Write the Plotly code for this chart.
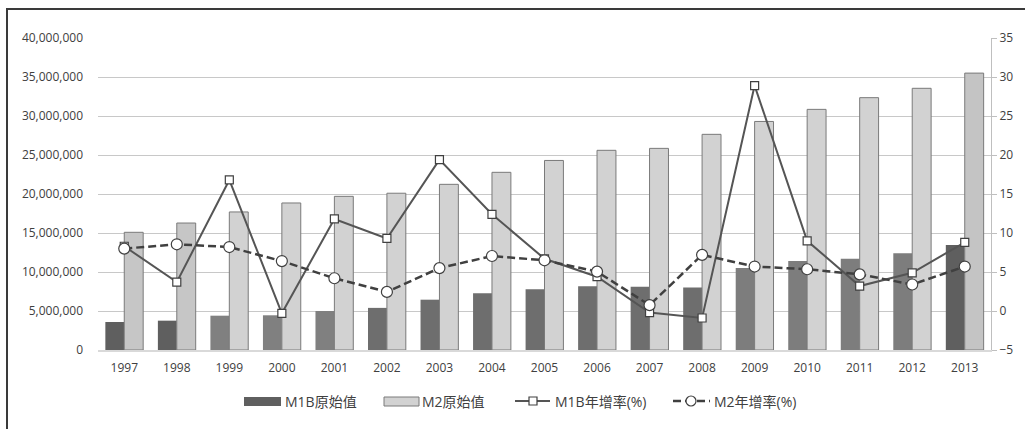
import plotly.graph_objects as go

years = [str(y) for y in range(1997, 2014)]
m1b = [3.59e6, 3.76e6, 4.4e6, 4.45e6, 5.0e6, 5.4e6, 6.45e6, 7.27e6, 7.8e6, 8.16e6,
       8.1e6, 8.0e6, 10.5e6, 11.4e6, 11.7e6, 12.4e6, 13.46e6]
m2 = [15.09e6, 16.28e6, 17.7e6, 18.85e6, 19.7e6, 20.1e6, 21.24e6, 22.78e6, 24.3e6, 25.6e6,
      25.85e6, 27.65e6, 29.3e6, 30.85e6, 32.35e6, 33.55e6, 35.5e6]
m1b_g = [8.3, 3.7, 16.8, -0.3, 11.8, 9.3, 19.4, 12.4, 6.7, 4.4,
         -0.2, -0.9, 28.9, 9.0, 3.2, 4.9, 8.8]
m2_g = [8.0, 8.55, 8.2, 6.4, 4.2, 2.45, 5.5, 7.05, 6.5, 5.05,
        0.75, 7.2, 5.7, 5.35, 4.7, 3.4, 5.7]
left_ticks = [0, 5e6, 10e6, 15e6, 20e6, 25e6, 30e6, 35e6, 40e6]
left_labels = ["0", "5,000,000", "10,000,000", "15,000,000", "20,000,000",
               "25,000,000", "30,000,000", "35,000,000", "40,000,000"]
right_ticks = [-5, 0, 5, 10, 15, 20, 25, 30, 35]
legend_names = ["M1B原始值", "M2原始值", "M1B年增率(%)", "M2年增率(%)"]

m1b_colors = (["#5f5f5f"] * 2 + ["#808080"] * 3 + ["#6e6e6e"] * 7 +
              ["#7d7d7d"] * 4 + ["#5f5f5f"])
m2_colors = (["#c6c6c6"] * 2 + ["#d2d2d2"] * 14 + ["#c4c4c4"])

FONT = "Open Sans, Noto Sans CJK TC, sans-serif"
W, H = 1025, 429
ML, MR, MT, MB = 98, 34, 38, 79
PW, PH = W - ML - MR, H - MT - MB
DASH = "8px,4px"


def px(x):
    return (x - ML) / PW


def py(y):
    return (H - MB - y) / PH


fig = go.Figure()
fig.add_trace(go.Bar(x=years, y=m1b, name=legend_names[0],
                     marker=dict(color=m1b_colors, line=dict(width=0)), offsetgroup="a"))
fig.add_trace(go.Bar(x=years, y=m2, name=legend_names[1],
                     marker=dict(color=m2_colors, line=dict(color="#7a7a7a", width=1)),
                     offsetgroup="b"))
fig.add_trace(go.Scatter(x=years, y=m1b_g, name=legend_names[2], yaxis="y2", mode="lines+markers",
                         line=dict(color="#555555", width=2),
                         marker=dict(symbol="square", size=8, color="white",
                                     line=dict(color="#404040", width=1.2))))
fig.add_trace(go.Scatter(x=years, y=m2_g, name=legend_names[3], yaxis="y2", mode="lines+markers",
                         line=dict(color="#404040", width=2.5, dash=DASH),
                         marker=dict(symbol="circle", size=11, color="white",
                                     line=dict(color="#404040", width=1.2))))

fig.update_layout(
    width=W, height=H,
    margin=dict(l=ML, r=MR, t=MT, b=MB, autoexpand=False),
    paper_bgcolor="white", plot_bgcolor="white",
    barmode="group", bargap=0.28, bargroupgap=0,
    font=dict(family=FONT, size=12, color="#404040"),
    xaxis=dict(type="category", range=[-0.5, 16.5], showgrid=False, showline=True,
               linecolor="#d9d9d9", linewidth=2, ticks="", ticklabelstandoff=6,
               tickfont=dict(size=12, color="#404040"), fixedrange=True),
    yaxis=dict(range=[0, 40e6], tickvals=left_ticks, ticktext=left_labels,
               showgrid=True, gridcolor="#c8c8c8", gridwidth=1, zeroline=False,
               showline=False, ticks="", ticklabelstandoff=14,
               tickfont=dict(size=12, color="#404040")),
    yaxis2=dict(range=[-5, 35], tickvals=right_ticks, overlaying="y", side="right",
                showgrid=False, zeroline=False, showline=True, linecolor="#bfbfbf", linewidth=1,
                ticks="outside", ticklen=5, tickcolor="#bfbfbf",
                tickfont=dict(size=12, color="#404040")),
    showlegend=False,
)

shapes = []
# outer frame
shapes.append(dict(type="rect", xref="paper", yref="paper", x0=px(7), x1=px(1100),
                   y0=py(470), y1=py(9), line=dict(color="#3a3a3a", width=2),
                   fillcolor="rgba(0,0,0,0)", layer="above"))
# custom legend
LY = 401
shapes.append(dict(type="rect", xref="paper", yref="paper", x0=px(244), x1=px(281),
                   y0=py(406), y1=py(397), line=dict(width=0), fillcolor="#5f5f5f"))
shapes.append(dict(type="rect", xref="paper", yref="paper", x0=px(384), x1=px(419),
                   y0=py(406), y1=py(397), line=dict(color="#7a7a7a", width=1),
                   fillcolor="#d2d2d2"))
shapes.append(dict(type="line", xref="paper", yref="paper", x0=px(515), x1=px(550),
                   y0=py(LY), y1=py(LY), line=dict(color="#555555", width=2)))
shapes.append(dict(type="rect", xref="paper", yref="paper", x0=px(529), x1=px(537),
                   y0=py(LY + 4), y1=py(LY - 4), line=dict(color="#404040", width=1.2),
                   fillcolor="white"))
shapes.append(dict(type="line", xref="paper", yref="paper", x0=px(673), x1=px(710),
                   y0=py(LY), y1=py(LY), line=dict(color="#404040", width=2.5, dash=DASH)))
shapes.append(dict(type="circle", xref="paper", yref="paper", x0=px(686), x1=px(696),
                   y0=py(LY + 5), y1=py(LY - 5), line=dict(color="#404040", width=1.2),
                   fillcolor="white"))
fig.update_layout(shapes=shapes)

text_x = [283, 420, 553, 712]
for name, tx in zip(legend_names, text_x):
    fig.add_annotation(x=px(tx), y=py(LY), xref="paper", yref="paper", text=name,
                       showarrow=False, xanchor="left", yanchor="middle",
                       font=dict(family=FONT, size=14, color="#404040"))

fig.write_html("out.html")
